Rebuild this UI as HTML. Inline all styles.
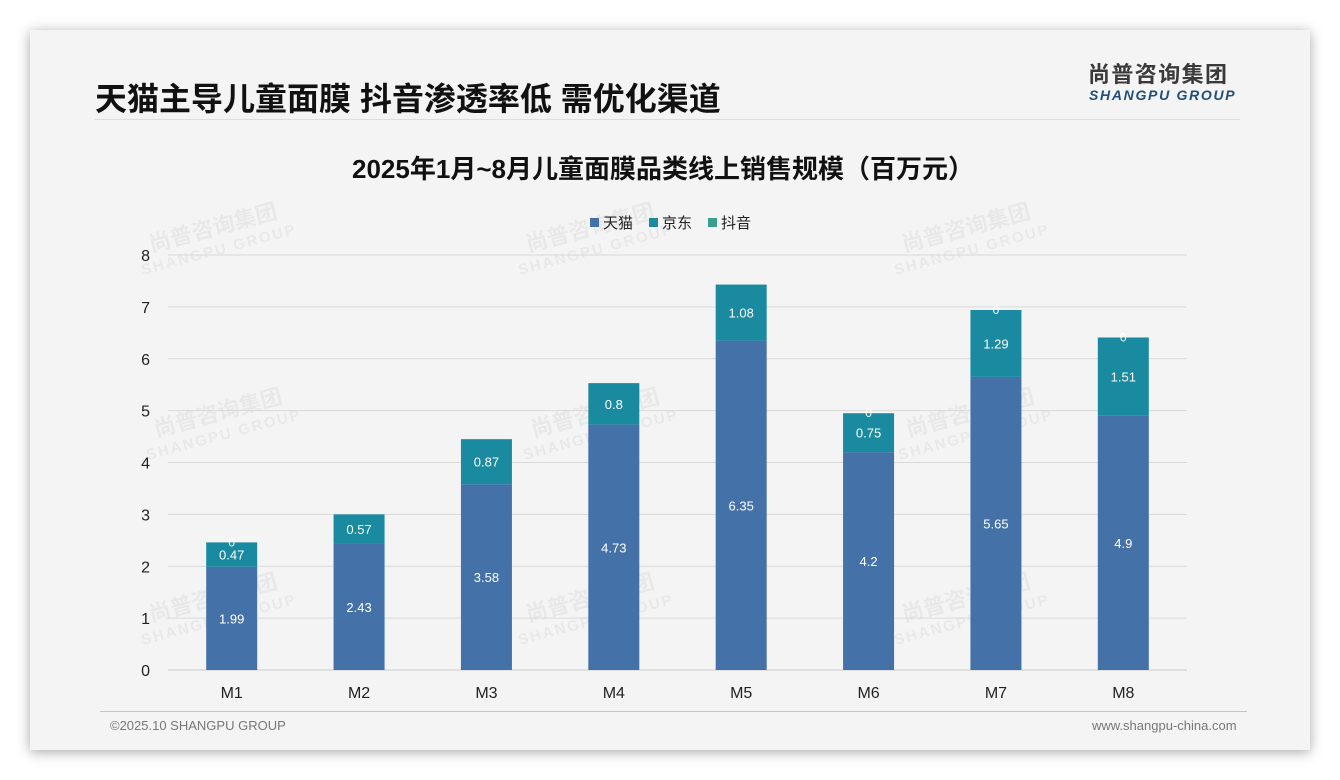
<!DOCTYPE html>
<html><head><meta charset="utf-8">
<style>
body{margin:0;width:1340px;height:780px;background:#fff;position:relative;overflow:hidden;font-family:"Liberation Sans","Noto Sans CJK SC",sans-serif;}
#card{position:absolute;left:30px;top:30px;width:1280px;height:720px;background:#f4f4f4;box-shadow:0 2px 12px rgba(0,0,0,0.35);}
#title{position:absolute;left:95px;top:74px;font-size:32px;font-weight:bold;color:#111;white-space:nowrap;}
#hline{position:absolute;left:95px;top:119px;width:1145px;height:1px;background:#ddd;}
#logo-cn{position:absolute;left:1088px;top:57px;font-size:22px;font-weight:bold;color:#3a3a3a;letter-spacing:1.4px;white-space:nowrap;}
#logo-en{position:absolute;left:1089px;top:87px;font-size:14px;font-weight:bold;font-style:italic;color:#1f4e79;letter-spacing:1.7px;white-space:nowrap;}
#fline{position:absolute;left:100px;top:711px;width:1147px;height:1px;background:#b4c7dc;}
#copy{position:absolute;left:110px;top:718px;font-size:13px;color:#777;}
#url{position:absolute;left:1092px;top:718px;font-size:13px;color:#777;}
svg{position:absolute;left:0;top:0;}
</style></head><body>
<div id="card"></div>
<div id="title">天猫主导儿童面膜 抖音渗透率低 需优化渠道</div>
<div id="hline"></div>
<div id="logo-cn">尚普咨询集团</div>
<div id="logo-en">SHANGPU GROUP</div>
<svg id="chart" width="1340" height="780"></svg>
<div id="fline"></div>
<div id="copy">©2025.10 SHANGPU GROUP</div>
<div id="url">www.shangpu-china.com</div>
<script>
const categories=["M1","M2","M3","M4","M5","M6","M7","M8"];
const tmall=[1.99,2.43,3.58,4.73,6.35,4.2,5.65,4.9];
const jd=[0.47,0.57,0.87,0.8,1.08,0.75,1.29,1.51];
const douyin=[0,null,null,null,null,0,0,0];
const yTicks=[0,1,2,3,4,5,6,7,8];
const NS="http://www.w3.org/2000/svg";
const svg=document.getElementById('chart');
const x0=168,x1=1187,yBase=670,yTop=255,yMax=8;
const band=(x1-x0)/categories.length,bw=51;
const y=v=>yBase-(v/yMax)*(yBase-yTop);
const cx=i=>x0+band*(i+0.5);
function mk(t,a,txt){const e=document.createElementNS(NS,t);for(const k in a)e.setAttribute(k,a[k]);if(txt!==undefined)e.textContent=txt;svg.appendChild(e);return e;}
[[215,235],[592,235],[968,235],[220,420],[597,420],[972,420],[215,605],[592,605],[968,605]].forEach(p=>{
const g=document.createElementNS(NS,'g');g.setAttribute('transform',`translate(${p[0]},${p[1]}) rotate(-15)`);g.setAttribute('opacity','0.045');


const a=document.createElementNS(NS,'text');a.setAttribute('text-anchor','middle');a.setAttribute('font-size','22');a.setAttribute('font-weight','bold');a.setAttribute('fill','#000');a.setAttribute('font-family','"Liberation Sans","Noto Sans CJK SC",sans-serif');a.textContent='尚普咨询集团';
const b=document.createElementNS(NS,'text');b.setAttribute('text-anchor','middle');b.setAttribute('y','20');b.setAttribute('font-size','15');b.setAttribute('font-weight','bold');b.setAttribute('letter-spacing','2');b.setAttribute('fill','#000');b.setAttribute('font-family','"Liberation Sans",sans-serif');b.textContent='SHANGPU GROUP';
g.appendChild(a);g.appendChild(b);svg.appendChild(g);});
let e=mk('text',{x:663,y:178,'text-anchor':'middle','font-size':26,'font-weight':'bold',fill:'#111'},'2025年1月~8月儿童面膜品类线上销售规模（百万元）');


const leg=[["天猫","#4472a8",590],["京东","#1a8aa0",649],["抖音","#3a9e8c",708]];
leg.forEach(l=>{let r=mk('rect',{x:l[2],y:218,width:9,height:9,fill:l[1]});


let t=mk('text',{x:l[2]+13,y:228,'font-size':15,fill:'#222'},l[0]);

});
yTicks.forEach(v=>{let g=mk('line',{x1:x0,x2:x1,y1:y(v),y2:y(v),stroke:v===0?'#ccc':'#d9d9d9','stroke-width':1});


let t=mk('text',{x:150,y:y(v)+6,'text-anchor':'end','font-size':16,fill:'#222'},String(v));

});
categories.forEach((c,i)=>{
const xl=cx(i)-bw/2;
let r1=mk('rect',{x:xl,y:y(tmall[i]),width:bw,height:yBase-y(tmall[i]),fill:'#4472a8'});


const top=tmall[i]+jd[i];
let r2=mk('rect',{x:xl,y:y(top),width:bw,height:y(tmall[i])-y(top),fill:'#1a8aa0'});


let t1=mk('text',{x:cx(i),y:(y(tmall[i])+yBase)/2+5,'text-anchor':'middle','font-size':13,fill:'#fff'},String(tmall[i]));


let t2=mk('text',{x:cx(i),y:(y(top)+y(tmall[i]))/2+5,'text-anchor':'middle','font-size':13,fill:'#fff'},String(jd[i]));


if(douyin[i]!==null){const tt=top+douyin[i];
let t3=mk('text',{x:cx(i),y:y(tt)+4,'text-anchor':'middle','font-size':12,fill:'#fff'},String(douyin[i]));

}
let xl2=mk('text',{x:cx(i),y:698,'text-anchor':'middle','font-size':16,fill:'#222'},c);


});
</script>
</body></html>
